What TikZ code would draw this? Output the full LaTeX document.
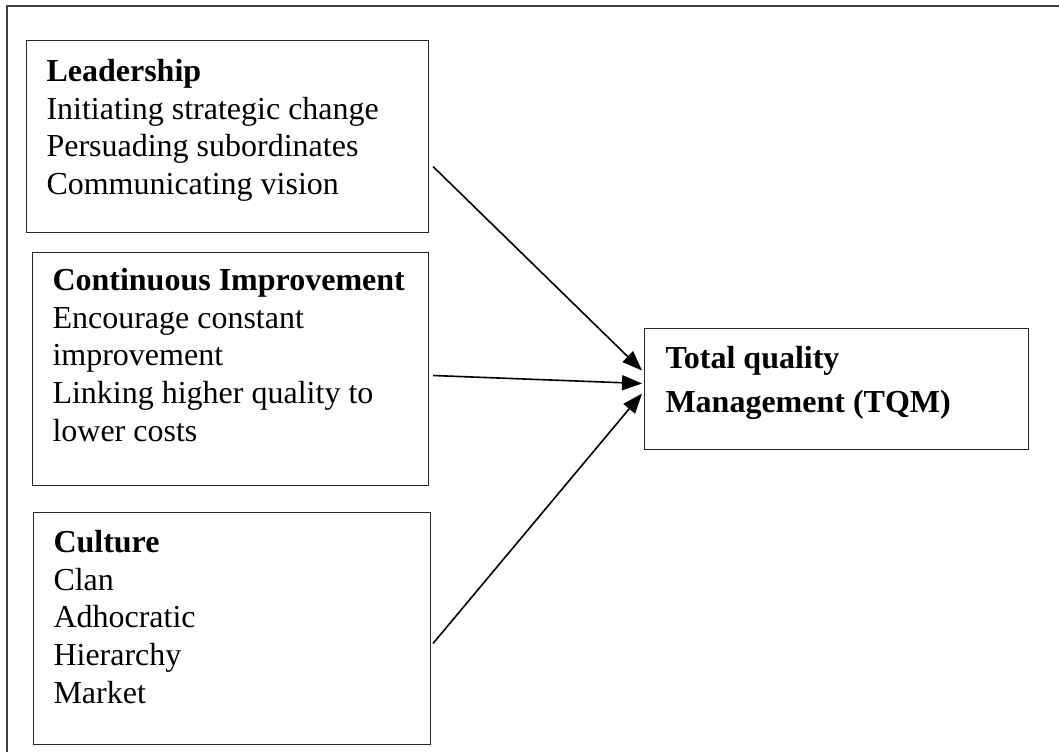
\documentclass[tikz,border=0pt]{standalone}
\usepackage{fontspec}
\setmainfont{Liberation Serif}
\usepackage{tikz}
\usetikzlibrary{arrows.meta}

\begin{document}
\begin{tikzpicture}[
    x=1pt,
    y=-1pt,
    box_style/.style={rectangle, draw, line width=1pt, black!85, text=black, inner xsep=20pt, anchor=north west, font=\fontsize{32}{37.7}\selectfont},
    frame_style/.style={draw, line width=1.3pt, black!75},
    arrow_style/.style={draw, line width=1.6pt, black, -{Triangle[length=20pt, width=15pt]}}
]
  \useasboundingbox (0,0) rectangle (1059,752);
  % Outer frame, only its top and left sides are shown
  \draw[frame_style] (7,752) -- (7,6) -- (1059,6);
  % Factor boxes
  \node[box_style, inner ysep=17pt] (lead) at (26,40) {\parbox[c][158pt][t]{362pt}{\rule{0pt}{24pt}\textbf{Leadership}\\
    Initiating strategic change\\
    Persuading subordinates\\
    Communicating vision}};
  \node[box_style, inner ysep=14pt] (cont) at (32,252) {\parbox[c][205pt][t]{356pt}{\rule{0pt}{24pt}\textbf{Continuous Improvement}\\
    Encourage constant\\
    improvement\\
    Linking higher quality to\\
    lower costs}};
  \node[box_style, inner ysep=16pt] (cult) at (33,512) {\parbox[c][200pt][t]{357pt}{\rule{0pt}{24pt}\textbf{Culture}\\
    Clan\\
    Adhocratic\\
    Hierarchy\\
    Market}};
  % Outcome box
  \node[box_style, inner xsep=21pt, inner ysep=16pt] (tqm) at (644,328) {\parbox[c][89pt][t]{342pt}{\fontsize{32}{44}\selectfont\rule{0pt}{24pt}\textbf{Total quality}\\
    \textbf{Management (TQM)}}};
  % Arrows into TQM
  \foreach \src/\sx/\sy/\ty in {lead/4/-30/18.5, cont/4/-6.5/5.5, cult/2/-15/-4.5} {
    \draw[arrow_style] ([xshift=\sx pt, yshift=\sy pt]\src.east) -- ([xshift=-2pt, yshift=\ty pt]tqm.west);
  }
\end{tikzpicture}
\end{document}
